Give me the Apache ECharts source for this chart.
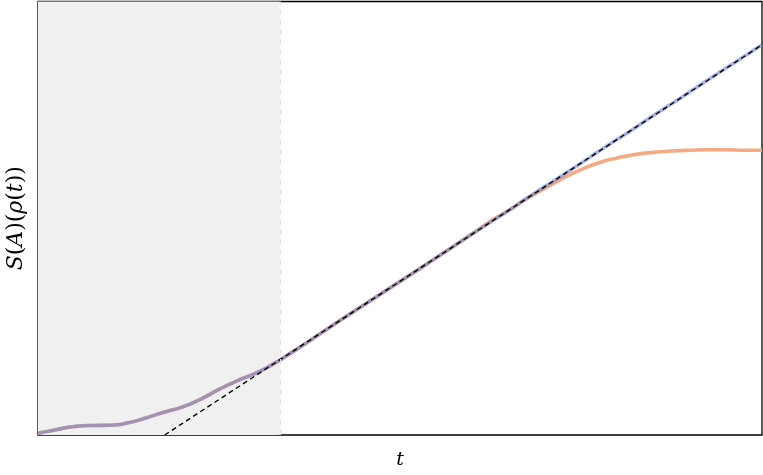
<!DOCTYPE html>
<html>
<head>
<meta charset="utf-8">
<script src="https://cdn.jsdelivr.net/npm/echarts@6/dist/echarts.min.js"></script>
<style>
  html, body { margin: 0; padding: 0; background: #fff; }
  #chart { width: 763px; height: 475px; }
</style>
</head>
<body>
<div id="chart"></div>
<script>
// data (t on 0..100, S on 0..100)
const tValues = [0, 2.5, 5, 7.5, 10, 12.5, 15, 17.5, 20, 22.5, 25, 27.5, 30, 32.5, 35, 40, 45, 50, 55, 60, 62.5, 65, 67.5, 70, 72.5, 75, 77.5, 80, 82.5, 85, 87.5, 90, 92.5, 95, 97.5, 100]
const blueValues = [0.4, 1.2, 1.95, 2.2, 2.25, 2.8, 4.0, 5.3, 6.5, 8.3, 10.5, 12.5, 14.2, 16.4, 19.0, 24.5, 30.0, 35.4, 40.9, 46.4, 49.1, 51.8, 54.6, 57.3, 60.0, 62.7, 65.5, 68.2, 70.9, 73.7, 76.4, 79.1, 81.9, 84.6, 87.3, 90.0]
const orangeValues = [0.4, 1.2, 1.95, 2.2, 2.25, 2.8, 4.0, 5.3, 6.5, 8.3, 10.5, 12.5, 14.2, 16.4, 19.0, 24.5, 30.0, 35.4, 40.9, 46.4, 49.3, 51.8, 54.5, 56.9, 59.2, 61.2, 62.8, 63.9, 64.7, 65.2, 65.5, 65.7, 65.8, 65.8, 65.7, 65.7]
const fitLine = [[17.5, 0], [100, 90]]
const shadedEnd = 33.4

const chart = echarts.init(document.getElementById('chart'))

const pairs = (vals) => tValues.map((t, i) => [t, vals[i]])

const option = {
  animation: false,
  grid: {
    left: 38,
    right: 1,
    top: 1.5,
    bottom: 40,
    outerBoundsMode: 'none',
    containLabel: false,
    show: true,
    borderColor: '#000',
    borderWidth: 1.3,
    backgroundColor: 'transparent'
  },
  xAxis: {
    type: 'value',
    min: 0,
    max: 100,
    name: 't',
    nameLocation: 'middle',
    nameGap: 16,
    nameTextStyle: { fontFamily: 'DejaVu Serif', fontStyle: 'italic', fontSize: 19, color: '#000' },
    axisLine: { show: false },
    axisTick: { show: false },
    axisLabel: { show: false },
    splitLine: { show: false }
  },
  yAxis: {
    type: 'value',
    min: 0,
    max: 100,
    name: '{i|S}{r|(}{i|A}{r|)(}{i|ρ}{r|(}{i|t}{r|))}',
    nameLocation: 'middle',
    nameGap: 11,
    nameRotate: 90,
    nameTextStyle: {
      rich: {
        i: { fontFamily: 'DejaVu Serif', fontStyle: 'italic', fontSize: 22, color: '#000' },
        r: { fontFamily: 'DejaVu Serif', fontSize: 22, color: '#000' }
      }
    },
    axisLine: { show: false },
    axisTick: { show: false },
    axisLabel: { show: false },
    splitLine: { show: false }
  },
  series: [
    {
      name: 'orange',
      type: 'line',
      data: pairs(orangeValues),
      smooth: 0.6,
      showSymbol: false,
      lineStyle: { color: '#f4a57c', width: 3.6, opacity: 0.95 },
      markArea: {
        silent: true,
        itemStyle: { color: '#f0f0f0' },
        data: [[{ xAxis: 0 }, { xAxis: shadedEnd }]]
      },
      markLine: {
        silent: true,
        symbol: 'none',
        label: { show: false },
        lineStyle: { color: '#e2e2e2', type: [6, 4], width: 1 },
        data: [{ xAxis: shadedEnd }]
      },
      z: 2
    },
    {
      name: 'blue',
      type: 'line',
      data: pairs(blueValues),
      smooth: 0.6,
      showSymbol: false,
      lineStyle: { color: '#6e82d2', width: 3.6, opacity: 0.6 },
      z: 3
    },
    {
      name: 'fit',
      type: 'line',
      data: fitLine,
      showSymbol: false,
      lineStyle: { color: '#000', width: 1.4, type: [5, 3.5] },
      z: 4
    }
  ]
}

chart.setOption(option)
</script>
</body>
</html>
